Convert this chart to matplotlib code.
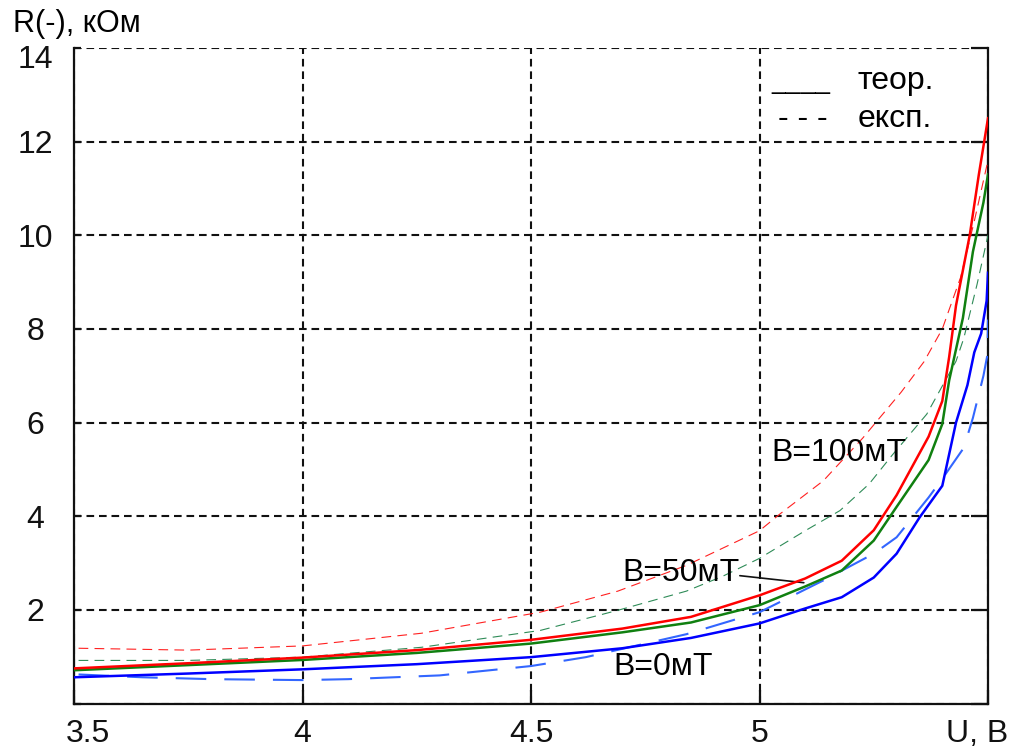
import numpy as np
import matplotlib
matplotlib.use('Agg')
import matplotlib.pyplot as plt
from matplotlib.transforms import ScaledTranslation

plt.rcParams['font.family'] = ['Liberation Sans', 'DejaVu Sans']
plt.rcParams['lines.scale_dashes'] = False

# theory (solid)
u_t0 = [3.5, 3.75, 4.0, 4.25, 4.5, 4.7, 4.85, 5.0, 5.1, 5.18, 5.25, 5.3, 5.35, 5.4, 5.43, 5.455, 5.47, 5.485, 5.497, 5.5]
r_t0 = [0.56, 0.64, 0.73, 0.84, 0.99, 1.18, 1.40, 1.71, 2.03, 2.27, 2.69, 3.2, 3.97, 4.65, 6.0, 6.8, 7.5, 7.9, 8.6, 9.2]
u_t50 = [3.5, 3.75, 4.0, 4.25, 4.5, 4.7, 4.85, 5.0, 5.1, 5.18, 5.25, 5.3, 5.37, 5.4, 5.415, 5.445, 5.467, 5.49, 5.5]
r_t50 = [0.71, 0.82, 0.93, 1.08, 1.28, 1.52, 1.73, 2.1, 2.5, 2.84, 3.48, 4.2, 5.2, 5.97, 6.9, 8.23, 9.65, 10.7, 11.3]
u_t100 = [3.5, 3.75, 4.0, 4.25, 4.5, 4.7, 4.85, 5.0, 5.1, 5.18, 5.25, 5.3, 5.37, 5.4, 5.415, 5.43, 5.46, 5.48, 5.5]
r_t100 = [0.75, 0.86, 0.98, 1.14, 1.36, 1.6, 1.85, 2.31, 2.67, 3.05, 3.7, 4.45, 5.7, 6.46, 7.4, 8.5, 10.0, 11.3, 12.5]

# experiment (dashed)
u_e0 = [3.51, 3.65, 3.8, 4.0, 4.1, 4.3, 4.41, 4.5, 4.62, 4.84, 5.0, 5.14, 5.25, 5.3, 5.37, 5.4, 5.447, 5.467, 5.49, 5.499, 5.5]
r_e0 = [0.62, 0.56, 0.52, 0.5, 0.52, 0.6, 0.71, 0.8, 0.99, 1.48, 1.95, 2.63, 3.2, 3.55, 4.4, 4.8, 5.46, 6.1, 7.0, 7.46, 8.2]
u_e50 = [3.51, 3.75, 4.0, 4.26, 4.52, 4.69, 4.84, 4.92, 5.0, 5.1, 5.176, 5.24, 5.29, 5.366, 5.43, 5.447, 5.476, 5.5]
r_e50 = [0.92, 0.92, 0.99, 1.2, 1.56, 1.99, 2.4, 2.72, 3.1, 3.69, 4.12, 4.69, 5.3, 6.18, 7.31, 7.8, 8.95, 10.0]
u_e100 = [3.51, 3.75, 4.0, 4.26, 4.52, 4.69, 4.84, 5.0, 5.045, 5.14, 5.226, 5.31, 5.36, 5.4, 5.44, 5.47, 5.5]
r_e100 = [1.18, 1.14, 1.23, 1.5, 1.95, 2.4, 2.95, 3.69, 4.05, 4.76, 5.67, 6.65, 7.3, 8.0, 9.1, 10.3, 11.6]

x_ticks = [3.5, 4.0, 4.5, 5.0, 5.5]
x_labels = ['3.5', '4', '4.5', '5', 'U, В']
y_ticks = [0, 2, 4, 6, 8, 10, 12, 14]
y_labels = ['', '2', '4', '6', '8', '10', '12', '14']

fs = 23

fig = plt.figure(figsize=(10.14, 7.51), dpi=100)
ax = fig.add_axes([74 / 1014, 1 - 703.5 / 751, 914 / 1014, 655.5 / 751])

# curves
ax.plot(u_e100, r_e100, color='#ff2020', lw=0.8, dashes=(7, 4.5), zorder=3)
ax.plot(u_e50, r_e50, color='#2e8b57', lw=0.8, dashes=(7, 4.5), zorder=3)
ax.plot(u_e0, r_e0, color='#3366ff', lw=1.5, dashes=(22, 13), zorder=3)
ax.plot(u_t0, r_t0, color='#0000ff', lw=1.8, zorder=4)
ax.plot(u_t50, r_t50, color='#108010', lw=1.8, zorder=4)
ax.plot(u_t100, r_t100, color='#ff0000', lw=1.8, zorder=4)

ax.set_xlim(3.5, 5.5)
ax.set_ylim(0, 14)
ax.set_xticks(x_ticks)
ax.set_xticklabels(x_labels, fontsize=fs)
ax.set_yticks(y_ticks)
ax.set_yticklabels(y_labels, fontsize=fs, ha='center')

ax.grid(True, color='#111111', linestyle=(0, (5.5, 3.5)), linewidth=1.5, zorder=1)
ax.set_axisbelow(True)

ax.spines['top'].set_visible(False)
for s in ['left', 'right', 'bottom']:
    ax.spines[s].set_linewidth(1.6)
    ax.spines[s].set_color('#111111')

ax.tick_params(axis='x', direction='in', length=10, width=1.6, top=False, pad=11, colors='#111111')
ax.tick_params(axis='y', direction='in', length=10, width=1.6, left=True, right=True, pad=28, colors='#111111')
for t in ax.yaxis.get_major_ticks():
    t.tick1line.set_markersize(5)
    t.tick2line.set_markersize(12)

# shift edge labels so they stay inside the picture
xl = ax.get_xticklabels()
xl[0].set_transform(xl[0].get_transform() + ScaledTranslation(14 / 100, 0, fig.dpi_scale_trans))
xl[-1].set_transform(xl[-1].get_transform() + ScaledTranslation(-11 / 100, 0, fig.dpi_scale_trans))
yl = ax.get_yticklabels()
yl[-1].set_transform(yl[-1].get_transform() + ScaledTranslation(0, -8 / 100, fig.dpi_scale_trans))

fig.text(13 / 1014, 1 - 32 / 751, 'R(-), кОм', fontsize=22, va='baseline', ha='left')

# curve labels
ax.text(5.027, 5.35, 'B=100мТ', fontsize=fs, va='center', ha='left')
ax.text(4.699, 2.78, 'B=50мТ', fontsize=fs, va='center', ha='left')
ax.text(4.68, 0.78, 'B=0мТ', fontsize=fs, va='center', ha='left')
ax.annotate('', xy=(5.097, 2.58), xytext=(4.957, 2.73),
            arrowprops=dict(arrowstyle='-', color='#111111', lw=1.2, shrinkA=0, shrinkB=0))

# legend as text
ax.text(5.027, 13.12, '____', fontsize=19, va='baseline', ha='left')
ax.text(5.215, 13.12, 'теор.', fontsize=fs, va='baseline', ha='left')
ax.text(5.04, 12.32, '- - -', fontsize=fs, va='baseline', ha='left')
ax.text(5.215, 12.32, 'експ.', fontsize=fs, va='baseline', ha='left')

fig.savefig('out.png', dpi=100)
